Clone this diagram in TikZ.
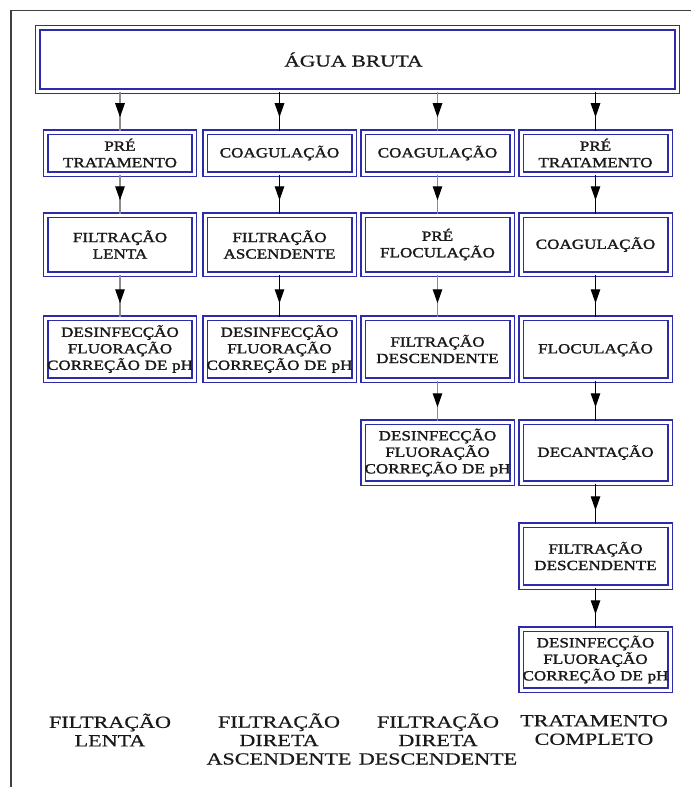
\documentclass[tikz,border=0pt]{standalone}
\usepackage{fontspec}
\setmainfont{Liberation Serif}
\newfontfamily\boxfont[FakeStretch=1.22,FakeBold=1.6]{Liberation Serif}
\newfontfamily\labfont[FakeStretch=1.3,FakeBold=0.6]{Liberation Serif}
\usetikzlibrary{arrows.meta,decorations.markings}
\definecolor{boxblue}{RGB}{44,44,170}
\definecolor{ink}{RGB}{25,25,25}
\begin{document}
\begin{tikzpicture}[x=1bp,y=-1bp,
  box/.style={draw=boxblue, line width=1.5bp, double=white, double distance=3bp,
    inner sep=0pt, align=center, text=ink,
    font=\boxfont\fontsize{14bp}{16.5bp}\selectfont},
  flow/.style={line width=1.3bp, draw=black, postaction={decorate},
    decoration={markings, mark=at position -14bp with {\arrow{Triangle[length=14bp,width=9.5bp,color=black,fill=black]}}}},
  flowgray/.style={flow, draw=black!45},
  lab/.style={align=center, inner sep=0pt, text=ink,
    font=\labfont\fontsize{17bp}{18.5bp}\selectfont}]
\useasboundingbox (0,0) rectangle (691,787);
\fill[white] (0,0) rectangle (691,787);
% frame
\draw[line width=1.3bp, black!75] (11,787) -- (11,10.5) -- (691,10.5);

% top box
\node[box, minimum width=639bp, minimum height=63bp, font=\labfont\fontsize{16.5bp}{18bp}\selectfont] (top) at (357.5,59.5) {\hspace*{-8bp}ÁGUA BRUTA};

% row 2
\node[box, text width=148bp, minimum height=42bp] (c1r2) at (120,153) {PRÉ\\TRATAMENTO};
\node[box, text width=149bp, minimum height=42bp] (c2r2) at (279.5,153) {COAGULAÇÃO};
\node[box, text width=149bp, minimum height=42bp] (c3r2) at (437.5,153) {COAGULAÇÃO};
\node[box, text width=149bp, minimum height=42bp] (c4r2) at (595.5,153) {PRÉ\\TRATAMENTO};

% row 3
\node[box, text width=148bp, minimum height=59bp] (c1r3) at (120,244.5) {FILTRAÇÃO\\LENTA};
\node[box, text width=149bp, minimum height=59bp] (c2r3) at (279.5,244.5) {FILTRAÇÃO\\ASCENDENTE};
\node[box, text width=149bp, minimum height=59bp] (c3r3) at (437.5,244.5) {PRÉ\\FLOCULAÇÃO};
\node[box, text width=149bp, minimum height=59bp] (c4r3) at (595.5,244.5) {COAGULAÇÃO};

% row 4
\node[box, text width=148bp, minimum height=62bp] (c1r4) at (120,349) {DESINFECÇÃO\\FLUORAÇÃO\\CORREÇÃO~DE~pH};
\node[box, text width=149bp, minimum height=62bp] (c2r4) at (279.5,349) {DESINFECÇÃO\\FLUORAÇÃO\\CORREÇÃO~DE~pH};
\node[box, text width=149bp, minimum height=62bp] (c3r4) at (437.5,349) {FILTRAÇÃO\\DESCENDENTE};
\node[box, text width=149bp, minimum height=62bp] (c4r4) at (595.5,349) {FLOCULAÇÃO};

% row 5
\node[box, text width=149bp, minimum height=61bp] (c3r5) at (437.5,452.5) {DESINFECÇÃO\\FLUORAÇÃO\\CORREÇÃO~DE~pH};
\node[box, text width=149bp, minimum height=61bp] (c4r5) at (595.5,452.5) {DECANTAÇÃO};

% row 6, 7
\node[box, text width=149bp, minimum height=62bp] (c4r6) at (595.5,556) {FILTRAÇÃO\\DESCENDENTE};
\node[box, text width=149bp, minimum height=61bp] (c4r7) at (595.5,659.5) {DESINFECÇÃO\\FLUORAÇÃO\\CORREÇÃO~DE~pH};

% connectors
\draw[flowgray] (top.south -| c1r2.north) -- (c1r2.north);
\draw[flow] (top.south -| c2r2.north) -- (c2r2.north);
\draw[flowgray] (top.south -| c3r2.north) -- (c3r2.north);
\draw[flow] (top.south -| c4r2.north) -- (c4r2.north);

\draw[flowgray] (c1r2.south) -- (c1r3.north);
\draw[flowgray] (c1r3.south) -- (c1r4.north);
\draw[flow] (c2r2.south) -- (c2r3.north);
\draw[flow] (c2r3.south) -- (c2r4.north);
\draw[flowgray] (c3r2.south) -- (c3r3.north);
\draw[flowgray] (c3r3.south) -- (c3r4.north);
\draw[flowgray] (c3r4.south) -- (c3r5.north);
\draw[flow] (c4r2.south) -- (c4r3.north);
\draw[flow] (c4r3.south) -- (c4r4.north);
\draw[flow] (c4r4.south) -- (c4r5.north);
\draw[flow] (c4r5.south) -- (c4r6.north);
\draw[flow] (c4r6.south) -- (c4r7.north);

% bottom labels
\node[lab] (l1) at (110,730) {FILTRAÇÃO\\LENTA};
\node[lab] (l2) at (279,739) {FILTRAÇÃO\\DIRETA\\ASCENDENTE};
\node[lab] (l3) at (438,739) {FILTRAÇÃO\\DIRETA\\DESCENDENTE};
\node[lab] (l4) at (594,730) {TRATAMENTO\\COMPLETO};
\end{tikzpicture}
\end{document}
